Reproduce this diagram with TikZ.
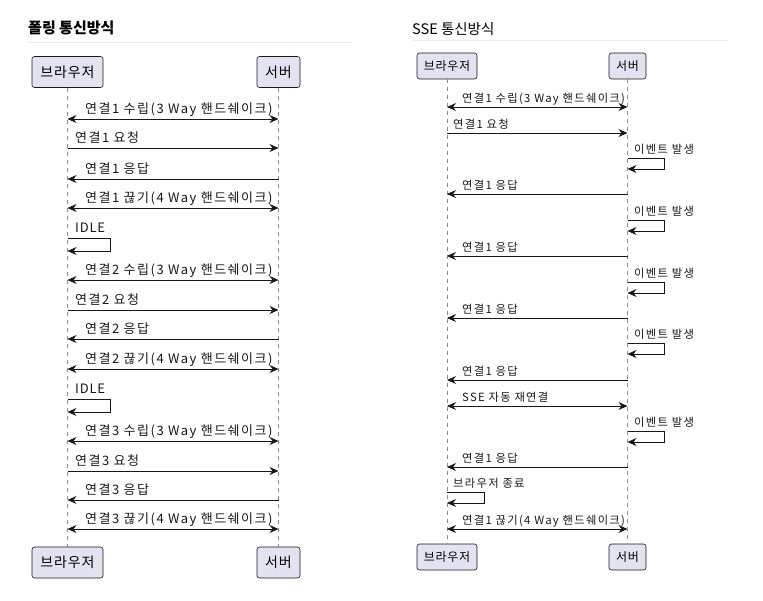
\documentclass[tikz,border=0pt]{standalone}
\usepackage{fontspec}
\setmainfont{Noto Sans CJK KR}
\newfontfamily\kr{Noto Sans CJK KR}
\newfontfamily\krs[LetterSpace=11.5]{Noto Sans CJK KR}
\newfontfamily\krp[LetterSpace=6]{Noto Sans CJK KR}
\usetikzlibrary{arrows.meta}
\definecolor{pbox}{HTML}{E2E2F0}
\definecolor{pline}{HTML}{181818}
\definecolor{plife}{HTML}{8A8A8A}
\definecolor{prule}{HTML}{EEEEEE}
\begin{document}
\begin{tikzpicture}[x=1pt,y=-1pt,
  pbigbox/.style={draw=pline,fill=pbox,rounded corners=2.5pt,line width=0.6pt,inner sep=0pt,minimum height=31pt,font=\krp\fontsize{14}{14}\selectfont},
  psmallbox/.style={draw=pline,fill=pbox,rounded corners=2.5pt,line width=0.6pt,inner sep=0pt,minimum height=26pt,font=\krp\fontsize{12}{12}\selectfont},
  life/.style={draw=plife,line width=0.6pt,dash pattern=on 4pt off 4pt},
  msg/.style={draw=pline,line width=0.9pt},
  tip/.style={-{Stealth[length=9pt,width=8pt,inset=3pt]}},
  both/.style={{Stealth[length=9pt,width=8pt,inset=3pt]}-{Stealth[length=9pt,width=8pt,inset=3pt]}},
  lbl/.style={anchor=base west,inner sep=0pt,font=\krs\fontsize{13}{13}\selectfont,text=pline},
  slbl/.style={anchor=base west,inner sep=0pt,font=\krs\fontsize{11.3}{11.3}\selectfont,text=pline},
  ttl/.style={anchor=west,inner sep=0pt,font=\kr\fontsize{15}{15}\selectfont,text=black}
]
\useasboundingbox (0,0) rectangle (763,600);
% ---------- titles ----------
\node[ttl,font=\kr\bfseries\fontsize{15}{15}\selectfont] (t1) at (28,28) {폴링 통신방식};
\node[ttl,font=\kr\fontsize{14.5}{14.5}\selectfont] (t2) at (412,29) {SSE 통신방식};
\coordinate (r1a) at (28,42); \coordinate (r1b) at (352,42);
\coordinate (r2a) at (412,40); \coordinate (r2b) at (728,40);
\draw[prule,line width=1pt] (r1a) -- (r1b);
\draw[prule,line width=1pt] (r2a) -- (r2b);
% ---------- left participants ----------
\node[pbigbox,minimum width=71pt] (lb) at (67.5,72) {브라우저};
\node[pbigbox,minimum width=43pt] (ls) at (278.5,72) {서버};
\node[pbigbox,minimum width=71pt] (lbb) at (67.5,562.5) {브라우저};
\node[pbigbox,minimum width=43pt] (lsb) at (278.5,562.5) {서버};
\draw[life] (lb.south) -- (lbb.north);
\draw[life] (ls.south) -- (lsb.north);
% left messages
\foreach \y/\t in {119/연결1 수립(3 Way 핸드쉐이크), 208/연결1 끊기(4 Way 핸드쉐이크), 280/연결2 수립(3 Way 핸드쉐이크), 369/연결2 끊기(4 Way 핸드쉐이크), 441/연결3 수립(3 Way 핸드쉐이크), 529/연결3 끊기(4 Way 핸드쉐이크)}{
  \draw[msg,both] (lb.south |- 0,\y) -- (ls.south |- 0,\y);
  \node[lbl] at (85,\y-6) {\t};
}
\foreach \y/\t in {148/연결1 요청, 310/연결2 요청, 471/연결3 요청}{
  \draw[msg,tip] (lb.south |- 0,\y) -- (ls.south |- 0,\y);
  \node[lbl] at (75,\y-6) {\t};
}
\foreach \y/\t in {179/연결1 응답, 339/연결2 응답, 500/연결3 응답}{
  \draw[msg,tip] (ls.south |- 0,\y) -- (lb.south |- 0,\y);
  \node[lbl] at (85,\y-6) {\t};
}
\foreach \y in {238, 399}{
  \draw[msg,tip] (lb.south |- 0,\y) -- (110,\y) -- (110,\y+13) -- (lb.south |- 0,\y+13);
  \node[lbl,font=\krp\fontsize{13}{13}\selectfont] at (75,\y-6) {IDLE};
}
% ---------- right participants ----------
\node[psmallbox,minimum width=60pt] (rb) at (447,66) {브라우저};
\node[psmallbox,minimum width=37pt] (rs) at (627.5,66) {서버};
\node[psmallbox,minimum width=60pt] (rbb) at (447,557) {브라우저};
\node[psmallbox,minimum width=37pt] (rsb) at (627.5,557) {서버};
\draw[life] (rb.south) -- (rbb.north);
\draw[life] (rs.south) -- (rsb.north);
\foreach \y/\t in {107/연결1 수립(3 Way 핸드쉐이크), 406/SSE 자동 재연결, 529/연결1 끊기(4 Way 핸드쉐이크)}{
  \draw[msg,both] (rb.south |- 0,\y) -- (rs.south |- 0,\y);
  \node[slbl] at (462,\y-5) {\t};
}
\draw[msg,tip] (rb.south |- 0,133) -- (rs.south |- 0,133);
\node[slbl] at (453,128) {연결1 요청};
\foreach \y in {194, 256, 318, 380, 467}{
  \draw[msg,tip] (rs.south |- 0,\y) -- (rb.south |- 0,\y);
  \node[slbl] at (462,\y-5) {연결1 응답};
}
\foreach \y in {158, 220, 282, 343, 431}{
  \draw[msg,tip] (rs.south |- 0,\y) -- (664,\y) -- (664,\y+11) -- (rs.south |- 0,\y+11);
  \node[slbl] at (634,\y-5) {이벤트 발생};
}
\draw[msg,tip] (rb.south |- 0,492) -- (484,492) -- (484,503) -- (rb.south |- 0,503);
\node[slbl] at (453,487) {브라우저 종료};
\end{tikzpicture}
\end{document}
